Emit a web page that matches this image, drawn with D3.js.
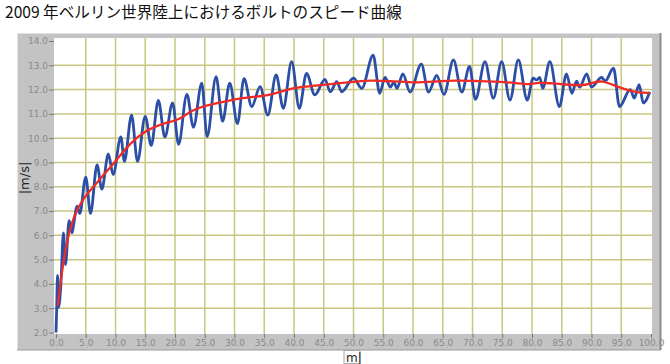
<!DOCTYPE html>
<html><head><meta charset="utf-8">
<script src="https://cdn.jsdelivr.net/npm/d3@7"></script>
<style>
body{margin:0;background:#fff;}
svg{display:block;}
</style></head>
<body>
<svg id="c" width="670" height="364"></svg>
<script>
const title = "2009 年ベルリン世界陸上におけるボルトのスピード曲線";
const yLabel = "|m/s|";
const xLabel = "m";
const xTicks = d3.range(0, 101, 5);
const yTicks = d3.range(2, 15, 1);
const xGrid = d3.range(5, 100, 5);
const yGrid = d3.range(3, 14, 1);

// blue: stride-by-stride speed (distance m, speed m/s)
const blueDist = [0,0.1,0.25,0.45,0.8,1.25,1.6,2.2,2.7,3.0,3.5,4.0,5.0,5.8,6.9,7.7,8.8,9.6,10.9,11.5,12.7,13.7,15.0,16.0,17.2,18.3,19.6,20.6,22.0,23.1,24.5,25.4,26.9,28.0,29.2,30.5,31.6,32.9,34.3,35.6,37.0,38.2,39.6,40.9,42.1,43.5,45.2,46.1,47.2,48.0,50.0,51.4,53.3,54.4,55.3,56.2,56.8,57.3,58.3,59.5,61.4,62.6,64.0,65.2,66.8,68.2,69.5,70.5,72.1,73.5,74.9,76.3,77.7,79.2,80.2,80.8,81.3,81.8,83.0,84.6,85.8,86.7,87.5,88.0,89.2,90.0,91.7,92.3,93.7,94.7,96.5,97.2,98.0,98.7,99.8];
const blueSpeed = [2.0,2.8,4.35,3.05,3.9,6.1,4.8,6.6,6.1,6.5,7.2,6.9,8.4,6.9,8.9,7.9,9.35,8.5,10.05,9.05,10.95,9.05,10.9,9.7,11.55,10.05,11.45,9.75,11.8,10.45,12.26,10.06,12.53,10.7,12.26,10.6,12.45,11.3,12.12,10.95,12.6,11.23,13.15,11.23,12.67,11.78,12.42,11.91,12.33,11.91,12.47,12.05,13.42,11.85,12.5,12.1,12.3,12.05,12.65,11.9,13.05,11.9,12.58,11.8,13.22,11.9,12.95,11.6,13.15,11.65,13.15,11.57,13.22,11.57,12.47,12.4,12.5,12.05,13.15,11.3,12.65,11.85,12.35,12.1,12.65,12.1,12.5,12.35,12.88,11.3,12.0,11.65,12.2,11.45,11.9];

// red: smoothed speed curve
const redDist = [0.3,1.0,2.1,3.2,4.6,6.3,8.0,10.2,12.4,15.2,18.0,20.8,22.5,25.3,28.1,30.9,33.7,36.5,39.3,42.1,44.9,47.7,50.5,53.0,56.0,60.0,63.5,67.3,71.0,74.1,77.0,79.7,81.0,83.0,85.3,88.1,90.0,91.7,94.2,97.0,99.8];
const redSpeed = [3.1,4.58,6.09,6.9,7.53,8.0,8.49,9.1,9.79,10.34,10.61,10.75,11.12,11.35,11.5,11.64,11.71,11.8,12.05,12.12,12.2,12.26,12.33,12.38,12.35,12.28,12.33,12.38,12.35,12.33,12.28,12.19,12.3,12.26,12.22,12.15,12.25,12.4,12.12,11.9,11.86];

const svg = d3.select("#c");
const x = d3.scaleLinear().domain([0,100]).range([56,651]);
const y = d3.scaleLinear().domain([2,14]).range([332.5,41]);

// title
svg.append("text").attr("x",5).attr("y",18)
  .attr("font-family","'Noto Sans CJK JP', sans-serif").attr("font-size",15.6)
  .attr("fill","#111").text(title);

// gray panel
svg.append("rect").attr("x",17).attr("y",33).attr("width",643).attr("height",317).attr("fill","#c3c3c3");
svg.append("line").attr("x1",17.5).attr("x2",17.5).attr("y1",33).attr("y2",350).attr("stroke","#e2e2e2");
svg.append("line").attr("x1",17).attr("x2",660).attr("y1",33.5).attr("y2",33.5).attr("stroke","#e2e2e2");
svg.append("line").attr("x1",660.5).attr("x2",660.5).attr("y1",33).attr("y2",350).attr("stroke","#8c8c8c").attr("stroke-width",2);
svg.append("line").attr("x1",17).attr("x2",661).attr("y1",350).attr("y2",350).attr("stroke","#9a9a9a");

// plot area
svg.append("rect").attr("x",54).attr("y",38).attr("width",598).attr("height",296).attr("fill","#fff");

const gridColor = "#c8c680";
svg.append("g").selectAll("line").data(xGrid).join("line")
  .attr("x1",d=>x(d)).attr("x2",d=>x(d)).attr("y1",38).attr("y2",334)
  .attr("stroke",gridColor).attr("stroke-width",1.5);
svg.append("g").selectAll("line").data(yGrid).join("line")
  .attr("x1",54).attr("x2",652).attr("y1",d=>y(d)).attr("y2",d=>y(d))
  .attr("stroke",gridColor).attr("stroke-width",1.5);

// axes
const ax = svg.append("g").attr("transform","translate(0,334)")
  .call(d3.axisBottom(x).tickValues(xTicks).tickFormat(d3.format(".1f")).tickSize(4).tickPadding(2));
const ay = svg.append("g").attr("transform","translate(54,0)")
  .call(d3.axisLeft(y).tickValues(yTicks).tickFormat(d3.format(".1f")).tickSize(5).tickPadding(1));
[ax,ay].forEach(g=>{
  g.select(".domain").remove();
  g.selectAll(".tick line").attr("stroke","#777");
  g.selectAll(".tick text").attr("fill","#8a8a8a").attr("font-size",9)
    .attr("font-family","'DejaVu Sans', sans-serif");
});

// lines
const blue = blueDist.map((d,i)=>[d,blueSpeed[i]]);
const red = redDist.map((d,i)=>[d,redSpeed[i]]);
const lineGen = d3.line().x(d=>x(d[0])).y(d=>y(d[1])).curve(d3.curveMonotoneX);
svg.append("path").datum(blue).attr("d",lineGen).attr("fill","none")
  .attr("stroke","#2b4ea6").attr("stroke-width",2.8).attr("stroke-linejoin","round");
svg.append("path").datum(red).attr("d",d3.line().x(d=>x(d[0])).y(d=>y(d[1])).curve(d3.curveBasis))
  .attr("fill","none").attr("stroke","#ee2b24").attr("stroke-width",2.3);

// axis titles
svg.append("text").attr("transform","translate(29,178) rotate(-90)")
  .attr("text-anchor","middle").attr("font-family","'DejaVu Sans', sans-serif")
  .attr("font-size",13).attr("fill","#222").text(yLabel);
svg.append("rect").attr("x",344).attr("y",350.5).attr("width",16).attr("height",13)
  .attr("fill","#fff").attr("stroke","#aaa");
svg.append("text").attr("x",346).attr("y",361.5).attr("font-family","'DejaVu Sans', sans-serif")
  .attr("font-size",12).attr("fill","#222").text(xLabel + "|");
</script>
</body></html>
